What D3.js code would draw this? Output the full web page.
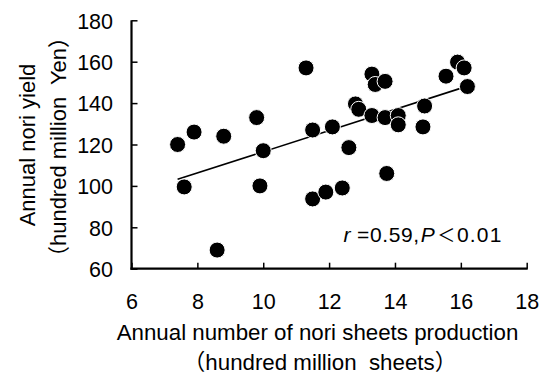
<!DOCTYPE html>
<html>
<head>
<meta charset="utf-8">
<script src="https://cdn.jsdelivr.net/npm/d3@7"></script>
<style>
  body { margin: 0; background: #fff; }
  svg { display: block; }
  text { fill: #000; white-space: pre; }
</style>
</head>
<body>
<svg id="chart" width="548" height="374"></svg>
<script>
// Data
const sheetsProduction = [7.4, 7.9, 8.8, 9.8, 10.0, 7.6, 9.9, 8.6, 11.3, 13.3, 13.4, 13.7, 12.8, 12.9, 13.3, 13.7, 14.1, 14.1, 11.5, 12.1, 12.6, 13.75, 11.5, 11.9, 12.4, 15.9, 16.1, 15.55, 16.2, 14.9, 14.85];
const noriYield        = [120, 126, 124, 133, 117, 99.5, 100, 69, 157, 154, 149, 150.5, 139.6, 137, 134, 133, 134, 129.5, 127, 128.5, 118.5, 106, 93.7, 97, 99, 159.8, 157, 153, 148, 138.6, 128.5];
const fitX = [7.4, 16.2];
const fitY = [103.2, 148.2];
const xTicks = [6, 8, 10, 12, 14, 16, 18];
const yTicks = [60, 80, 100, 120, 140, 160, 180];
const xLabelLines = ["Annual number of nori sheets production", "（hundred million  sheets）"];
const yLabelLines = ["Annual nori yield", "（hundred million  Yen）"];

const svg = d3.select("#chart");
const pLeft = 131.5, pRight = 526.7, pTop = 20.3, pBottom = 268.7;

const x = d3.scaleLinear().domain([6, 18]).range([pLeft, pRight]);
const y = d3.scaleLinear().domain([60, 180]).range([pBottom, pTop]);

const tickFont = "'Liberation Sans', Arial, sans-serif";
const labelFont = "'Liberation Sans', Arial, 'Noto Sans CJK JP', sans-serif";

// Axes
const xAxis = d3.axisBottom(x).tickValues(xTicks).tickSize(-6).tickFormat(d3.format("d"));
const yAxis = d3.axisLeft(y).tickValues(yTicks).tickSize(-6).tickFormat(d3.format("d"));

const gx = svg.append("g").attr("transform", `translate(0,${pBottom})`).call(xAxis);
const gy = svg.append("g").attr("transform", `translate(${pLeft},0)`).call(yAxis);

[gx, gy].forEach(g => {
  g.select(".domain").remove();
  g.selectAll(".tick line").attr("stroke", "#000").attr("stroke-width", 1.5);
  g.selectAll(".tick text").attr("font-family", tickFont).attr("font-size", 21.5).attr("fill", "#000");
});
svg.append("line").attr("x1", x(6) - 1.1).attr("x2", x(18) + 1).attr("y1", pBottom).attr("y2", pBottom)
  .attr("stroke", "#000").attr("stroke-width", 2.2);
svg.append("line").attr("x1", pLeft).attr("x2", pLeft).attr("y1", y(180)).attr("y2", pBottom + 1.1)
  .attr("stroke", "#000").attr("stroke-width", 2.2);
gx.selectAll(".tick text").attr("dy", null).attr("y", 309 - pBottom);
gy.selectAll(".tick text").attr("x", -18.5).attr("dy", "0.36em");

// Regression line
svg.append("line")
  .attr("x1", x(fitX[0])).attr("y1", y(fitY[0]))
  .attr("x2", x(fitX[1])).attr("y2", y(fitY[1]))
  .attr("stroke", "#000").attr("stroke-width", 1.6);

// Points
svg.append("g").selectAll("circle")
  .data(sheetsProduction.map((v, i) => [v, noriYield[i]]))
  .join("circle")
  .attr("cx", d => x(d[0]))
  .attr("cy", d => y(d[1]))
  .attr("r", 8)
  .attr("fill", "#000")
  .attr("stroke", "#fff")
  .attr("stroke-width", 1);

// Annotation
const ann = svg.append("text").attr("x", 343.5).attr("y", 241.5)
  .attr("font-family", tickFont).attr("font-size", 21).attr("letter-spacing", 0.6);
ann.append("tspan").attr("font-style", "italic").text("r");
ann.append("tspan").attr("dx", 6).text("=0.59,");
ann.append("tspan").attr("dx", 1).attr("font-style", "italic").text("P");
ann.append("tspan").attr("dx", 2).attr("font-family", "'Noto Sans CJK JP', sans-serif").attr("font-size", 18).text("＜");
ann.append("tspan").attr("dx", 1).attr("letter-spacing", 1.2).text("0.01");

// X label
svg.append("text").attr("x", 317.5).attr("y", 339.5).attr("text-anchor", "middle")
  .attr("font-family", labelFont).attr("font-size", 22.3).text(xLabelLines[0]);
svg.append("text").attr("x", 320).attr("y", 369.5).attr("text-anchor", "middle")
  .attr("font-family", labelFont).attr("font-size", 22.3).text(xLabelLines[1]);

// Y label
svg.append("text").attr("transform", "translate(35,145) rotate(-90)").attr("text-anchor", "middle")
  .attr("font-family", labelFont).attr("font-size", 22).text(yLabelLines[0]);
svg.append("text").attr("transform", "translate(66,147) rotate(-90)").attr("text-anchor", "middle")
  .attr("font-family", labelFont).attr("font-size", 22).text(yLabelLines[1]);
</script>
</body>
</html>
